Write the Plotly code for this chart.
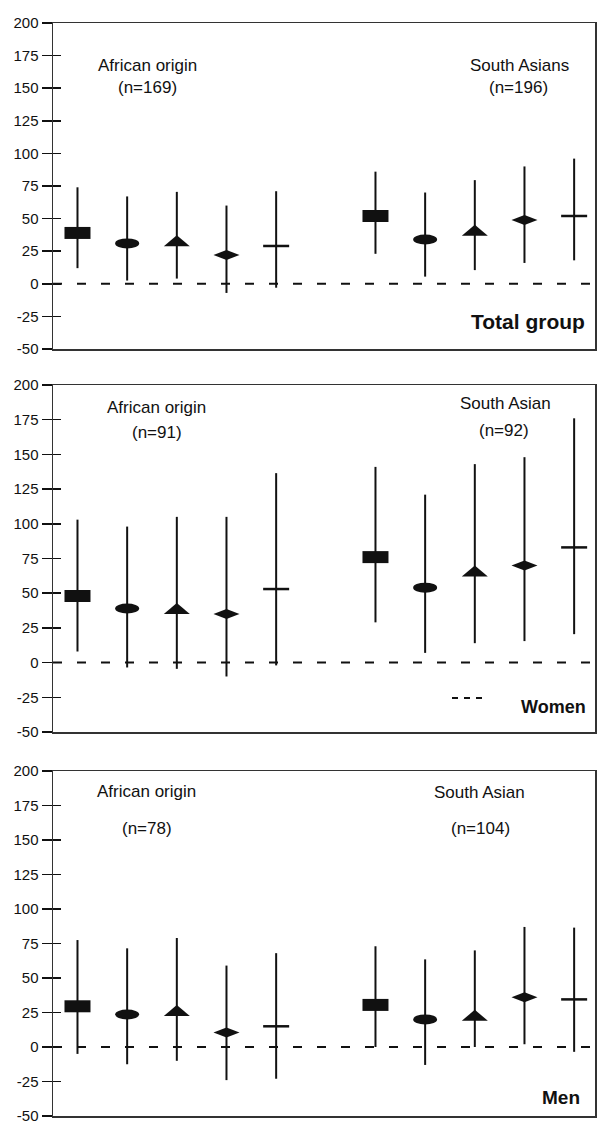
import plotly.graph_objects as go

W, H = 597, 1125

# ---------------- data ----------------
afr_x = [1, 2, 3, 4, 5]
sa_x = [7, 8, 9, 10, 11]
glyphs = ["rect", "ellipse", "triangle", "diamond", "bar"]

tick_vals = [-50, -25, 0, 25, 50, 75, 100, 125, 150, 175, 200]
tick_text = ["-50", "-25", "0", "25", "50", "75", "100", "125", "150", "175", "200"]

panel_names = ["Total group", "Women", "Men"]
afr_names = ["African origin", "African origin", "African origin"]
afr_n = ["(n=169)", "(n=91)", "(n=78)"]
sa_names = ["South Asians", "South Asian", "South Asian"]
sa_n = ["(n=196)", "(n=92)", "(n=104)"]

# Total group
total_afr_mean = [39, 31, 33, 22, 29]
total_afr_hi = [74, 67, 70.5, 60, 71]
total_afr_lo = [12, 2.5, 4, -7, -3]
total_sa_mean = [52, 34, 41, 49, 52]
total_sa_hi = [86, 70, 79.5, 90, 96]
total_sa_lo = [23, 5.5, 10.5, 16, 18]

# Women
women_afr_mean = [48, 39, 39, 35, 53]
women_afr_hi = [103, 98, 105, 105, 136.5]
women_afr_lo = [8, -3.5, -4.5, -10, -2]
women_sa_mean = [76, 54, 66, 70, 83]
women_sa_hi = [141, 121, 143, 148, 176]
women_sa_lo = [29, 7, 14, 15.5, 20.5]

# Men
men_afr_mean = [29.5, 23.5, 26.5, 10.5, 15]
men_afr_hi = [77.5, 71.5, 79, 59, 68]
men_afr_lo = [-5, -12.5, -10, -24, -23]
men_sa_mean = [30.5, 20, 23, 36, 34.5]
men_sa_hi = [73, 63.5, 70, 87, 86.5]
men_sa_lo = [0, -13, 0, 2, -3.5]

panels = [
    (total_afr_mean, total_afr_hi, total_afr_lo, total_sa_mean, total_sa_hi, total_sa_lo),
    (women_afr_mean, women_afr_hi, women_afr_lo, women_sa_mean, women_sa_hi, women_sa_lo),
    (men_afr_mean, men_afr_hi, men_afr_lo, men_sa_mean, men_sa_hi, men_sa_lo),
]

# ---------------- layout helpers ----------------
INK = "#111111"
AXIS = "#333333"
FONT = "Liberation Sans, Arial, sans-serif"

panel_px = [(23, 349), (385, 732), (771, 1116)]  # top, bottom pixel of each plot area
x_px = (53, 595)
x_range = [0.507, 11.42]


def fx(p):
    return p / W


def fy(p):
    return 1 - p / H


fig = go.Figure()
layout = dict(
    width=W, height=H,
    margin=dict(l=0, r=0, t=0, b=0),
    paper_bgcolor="white", plot_bgcolor="white",
    showlegend=False,
    font=dict(family=FONT, color=INK),
)
shapes = []
annotations = []

for i, (am, ah, al, sm, sh, sl) in enumerate(panels):
    k = i + 1
    xa = "x" if k == 1 else f"x{k}"
    ya = "y" if k == 1 else f"y{k}"
    yin = f"y{k + 3}"
    top, bot = panel_px[i]
    dom_y = [fy(bot), fy(top)]
    layout["xaxis" if k == 1 else f"xaxis{k}"] = dict(
        domain=[fx(x_px[0]), fx(x_px[1])], range=x_range, anchor=ya,
        showgrid=False, zeroline=False, showticklabels=False, ticks="",
        showline=True, mirror=True, linecolor=AXIS, linewidth=1.5, fixedrange=True,
    )
    layout["yaxis" if k == 1 else f"yaxis{k}"] = dict(
        domain=dom_y, range=[-50, 200], anchor=xa,
        tickvals=tick_vals, ticktext=tick_text, ticks="outside", ticklen=10,
        tickwidth=1.5, tickcolor=INK, showgrid=False, zeroline=False,
        showline=True, mirror=True, linecolor=AXIS, linewidth=1.5,
        tickfont=dict(size=15, family=FONT, color=INK), automargin=False,
        ticklabeloverflow="allow",
    )
    # inner half of the crossing tick marks
    layout[f"yaxis{k + 3}"] = dict(
        domain=dom_y, range=[-50, 200], anchor=xa, overlaying=ya, side="left",
        tickvals=tick_vals, ticks="inside", ticklen=8, tickwidth=1.5,
        tickcolor=INK, showticklabels=False, showgrid=False, zeroline=False,
        showline=False,
    )
    fig.add_trace(go.Scatter(x=[afr_x[0]], y=[0], xaxis=xa, yaxis=yin,
                             mode="markers", marker=dict(size=1, opacity=0),
                             hoverinfo="skip"))

    # vertical range lines
    for xs, m, hi, lo in [(afr_x, am, ah, al), (sa_x, sm, sh, sl)]:
        fig.add_trace(go.Scatter(
            x=xs, y=m, xaxis=xa, yaxis=ya, mode="markers",
            marker=dict(size=1, color="rgba(0,0,0,0)"),
            error_y=dict(type="data", symmetric=False,
                         array=[h - v for h, v in zip(hi, m)],
                         arrayminus=[v - l for v, l in zip(m, lo)],
                         width=0, thickness=2, color=INK),
            hoverinfo="skip",
        ))
        # glyph for each mean value
        for xv, yv, g in zip(xs, m, glyphs):
            base = dict(xref=xa, yref=ya, xsizemode="pixel", ysizemode="pixel",
                        xanchor=xv, yanchor=yv, layer="above")
            if g == "rect":
                shapes.append(dict(type="rect", x0=-13, x1=13, y0=-6, y1=6,
                                   fillcolor=INK, line=dict(width=0), **base))
            elif g == "ellipse":
                shapes.append(dict(type="circle", x0=-12, x1=12, y0=-5, y1=5,
                                   fillcolor=INK, line=dict(width=0), **base))
            elif g == "triangle":
                shapes.append(dict(type="path", path="M -13,-5.5 L 13,-5.5 L 0,5.5 Z",
                                   fillcolor=INK, line=dict(width=0), **base))
            elif g == "diamond":
                shapes.append(dict(type="path", path="M -13,0 L 0,5 L 13,0 L 0,-5 Z",
                                   fillcolor=INK, line=dict(width=0), **base))
            else:
                shapes.append(dict(type="line", x0=-13, x1=13, y0=0, y1=0,
                                   line=dict(color=INK, width=2.5), **base))

    # dashed zero reference line
    shapes.append(dict(type="line", xref=f"{xa} domain", yref=ya, x0=0, x1=1,
                       y0=0, y1=0, layer="below",
                       line=dict(color=INK, width=2, dash="9px,15px")))

# text labels (pixel positions)
afr_name_pos = [(147, 66), (156, 407), (146, 791)]
afr_n_pos = [(147, 87), (157, 432), (147, 828)]
sa_name_pos = [(519, 65), (505, 403), (479, 792)]
sa_n_pos = [(518, 87), (504, 430), (480, 828)]
panel_label_pos = [(587, 321), (588, 707), (582, 1097)]
panel_label_size = [21, 18, 19]

for i in range(3):
    for txt, (px, py) in [(afr_names[i], afr_name_pos[i]), (afr_n[i], afr_n_pos[i]),
                          (sa_names[i], sa_name_pos[i]), (sa_n[i], sa_n_pos[i])]:
        annotations.append(dict(text=txt, x=fx(px), y=fy(py), xref="paper", yref="paper",
                                xanchor="center", yanchor="middle", showarrow=False,
                                font=dict(size=17, family=FONT, color=INK)))
    px, py = panel_label_pos[i]
    annotations.append(dict(text=f"<b>{panel_names[i]}</b>", x=fx(px), y=fy(py),
                            xref="paper", yref="paper", xanchor="right", yanchor="middle",
                            showarrow=False,
                            font=dict(size=panel_label_size[i], family=FONT, color=INK)))

# stray short dashed mark in the Women panel
shapes.append(dict(type="line", xref="paper", yref="paper", x0=fx(452), x1=fx(484),
                   y0=fy(698), y1=fy(698), line=dict(color=INK, width=2, dash="6px,6px")))

layout["shapes"] = shapes
layout["annotations"] = annotations
fig.update_layout(**layout)
fig.write_html(
    "out.html",
    config={"displayModeBar": False, "staticPlot": True},
    post_script="document.body.style.margin='0';document.body.style.padding='0';"
                "document.body.style.overflow='hidden';",
)
